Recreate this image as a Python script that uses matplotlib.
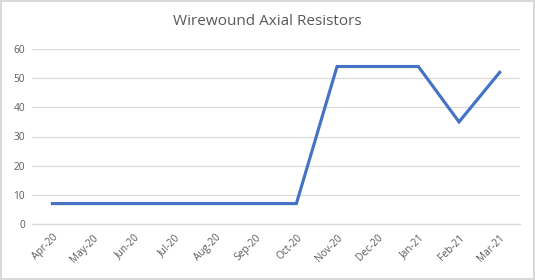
import matplotlib
matplotlib.use('Agg')
import matplotlib.pyplot as plt

months = ['Apr-20', 'May-20', 'Jun-20', 'Jul-20', 'Aug-20', 'Sep-20',
          'Oct-20', 'Nov-20', 'Dec-20', 'Jan-21', 'Feb-21', 'Mar-21']
values = [7, 7, 7, 7, 7, 7, 7, 54, 54, 54, 35, 52]
y_ticks = [0, 10, 20, 30, 40, 50, 60]

plt.rcParams['font.family'] = ['Open Sans', 'DejaVu Sans']

fig = plt.figure(figsize=(5.35, 2.8), dpi=100)
fig.patch.set_edgecolor('#D9D9D9')
fig.patch.set_linewidth(1.5)
ax = fig.add_axes([0.06, 0.2, 0.912, 0.625])

x = list(range(len(months)))
ax.plot(x, values, color='#4472C4', linewidth=2.25, solid_joinstyle='miter')

ax.set_xlim(-0.5, len(months) - 0.5)
ax.set_ylim(0, 60)
ax.set_yticks(y_ticks)
ax.set_xticks(x)
ax.set_xticklabels(months, rotation=45, ha='right', rotation_mode='anchor')
ax.tick_params(axis='both', length=0, labelsize=7.3, colors='#595959', pad=5)
ax.tick_params(axis='x', pad=6)

ax.grid(axis='y', color='#D9D9D9', linewidth=0.9)
ax.set_axisbelow(True)
for side in ['top', 'right', 'left']:
    ax.spines[side].set_visible(False)
ax.spines['bottom'].set_color('#D9D9D9')
ax.spines['bottom'].set_linewidth(0.9)

fig.suptitle('Wirewound Axial Resistors', y=0.95, fontsize=11, color='#595959')

fig.savefig('out.png', dpi=100)
